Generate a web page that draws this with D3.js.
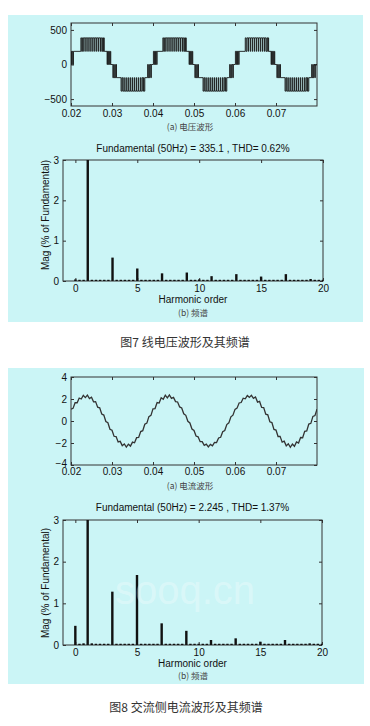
<!DOCTYPE html>
<html>
<head>
<meta charset="utf-8">
<script src="https://cdn.jsdelivr.net/npm/d3@7"></script>
<style>
  body { margin: 0; background: #fff; }
  svg { display: block; font-family: "Liberation Sans", Arial, sans-serif; }
</style>
</head>
<body>
<script>
(function(){

  //tick labels
  var timeTicks = [0.02, 0.03, 0.04, 0.05, 0.06, 0.07];
  var voltTicks = [-500, 0, 500];
  var currTicks = [-4, -2, 0, 2, 4];
  var orderTicks = [0, 5, 10, 15, 20];
  var magTicks = [0, 1, 2, 3];

  //line voltage, [time s, level V], drawn as steps
  var voltPts = [
    [0.0200,0],[0.0201,190],[0.0202,0],[0.0203,190],[0.0205,0],[0.0206,190],
    [0.0224,385],[0.0226,190],[0.0228,385],[0.0231,190],[0.0232,385],[0.0236,190],[0.0237,385],[0.0241,190],[0.0242,385],[0.0246,190],[0.0247,385],[0.0251,190],[0.0252,385],[0.0256,190],[0.0257,385],[0.0261,190],[0.0262,385],[0.0266,190],[0.0267,385],[0.0271,190],[0.0272,385],[0.0275,190],[0.0277,385],[0.0279,190],[0.0280,385],[0.0281,190],
    [0.0288,0],[0.0289,190],[0.0291,0],[0.0292,190],[0.0294,0],[0.0296,190],[0.0297,0],[0.0302,-190],[0.0304,0],[0.0305,-190],[0.0307,0],[0.0308,-190],[0.0310,0],[0.0311,-190],
    [0.0322,-385],[0.0324,-190],[0.0326,-385],[0.0329,-190],[0.0330,-385],[0.0334,-190],[0.0335,-385],[0.0339,-190],[0.0340,-385],[0.0344,-190],[0.0345,-385],[0.0349,-190],[0.0350,-385],[0.0354,-190],[0.0355,-385],[0.0359,-190],[0.0360,-385],[0.0364,-190],[0.0365,-385],[0.0369,-190],[0.0370,-385],[0.0373,-190],[0.0375,-385],[0.0377,-190],[0.0378,-385],[0.0380,-190],
    [0.0387,0],[0.0388,-190],[0.0390,0],[0.0391,-190],[0.0393,0],[0.0395,-190],[0.0396,0],[0.0401,190],[0.0403,0],[0.0404,190],[0.0406,0],[0.0407,190],[0.0409,0],[0.0410,190],
    [0.0424,385],[0.0426,190],[0.0428,385],[0.0431,190],[0.0432,385],[0.0436,190],[0.0437,385],[0.0441,190],[0.0442,385],[0.0446,190],[0.0447,385],[0.0451,190],[0.0452,385],[0.0456,190],[0.0457,385],[0.0461,190],[0.0462,385],[0.0466,190],[0.0467,385],[0.0471,190],[0.0472,385],[0.0475,190],[0.0477,385],[0.0479,190],[0.0480,385],[0.0481,190],
    [0.0488,0],[0.0489,190],[0.0491,0],[0.0492,190],[0.0494,0],[0.0496,190],[0.0497,0],[0.0502,-190],[0.0504,0],[0.0505,-190],[0.0507,0],[0.0508,-190],[0.0510,0],[0.0511,-190],
    [0.0522,-385],[0.0524,-190],[0.0526,-385],[0.0529,-190],[0.0530,-385],[0.0534,-190],[0.0535,-385],[0.0539,-190],[0.0540,-385],[0.0544,-190],[0.0545,-385],[0.0549,-190],[0.0550,-385],[0.0554,-190],[0.0555,-385],[0.0559,-190],[0.0560,-385],[0.0564,-190],[0.0565,-385],[0.0569,-190],[0.0570,-385],[0.0573,-190],[0.0575,-385],[0.0577,-190],[0.0578,-385],[0.0580,-190],
    [0.0587,0],[0.0588,-190],[0.0590,0],[0.0591,-190],[0.0593,0],[0.0595,-190],[0.0596,0],[0.0601,190],[0.0603,0],[0.0604,190],[0.0606,0],[0.0607,190],[0.0609,0],[0.0610,190],
    [0.0625,385],[0.0627,190],[0.0629,385],[0.0632,190],[0.0633,385],[0.0637,190],[0.0638,385],[0.0642,190],[0.0643,385],[0.0647,190],[0.0648,385],[0.0652,190],[0.0653,385],[0.0657,190],[0.0658,385],[0.0662,190],[0.0663,385],[0.0667,190],[0.0668,385],[0.0672,190],[0.0673,385],[0.0676,190],[0.0678,385],[0.0680,190],[0.0681,385],[0.0682,190],
    [0.0688,0],[0.0689,190],[0.0691,0],[0.0692,190],[0.0694,0],[0.0696,190],[0.0697,0],[0.0702,-190],[0.0704,0],[0.0705,-190],[0.0707,0],[0.0708,-190],[0.0710,0],[0.0711,-190],
    [0.0722,-385],[0.0724,-190],[0.0726,-385],[0.0729,-190],[0.0730,-385],[0.0734,-190],[0.0735,-385],[0.0739,-190],[0.0740,-385],[0.0744,-190],[0.0745,-385],[0.0749,-190],[0.0750,-385],[0.0754,-190],[0.0755,-385],[0.0759,-190],[0.0760,-385],[0.0764,-190],[0.0765,-385],[0.0769,-190],[0.0770,-385],[0.0773,-190],[0.0775,-385],[0.0777,-190],[0.0778,-385],[0.0780,-190],
    [0.0787,0],[0.0788,-190],[0.0790,0],[0.0791,-190],[0.0793,0],[0.0795,-190],[0.0796,0],[0.0800,0]
  ];

  //ac side current, one sample every 0.5 ms from 0.02 s
  var currStart = 0.02, currStep = 0.0005;
  var currVals = [
    1.08, 1.15, 1.66, 1.66, 2.09, 2.00, 2.33, 2.13, 2.35, 2.04, 2.16, 1.74, 1.76, 1.26, 1.20, 0.64, 0.54, -0.05, -0.16, -0.75,
    -0.84, -1.39, -1.42, -1.90, -1.85, -2.24, -2.09, -2.37, -2.11, -2.28, -1.92, -1.98, -1.52, -1.50, -0.96, -0.88, -0.30, -0.19, 0.40, 0.51,
    1.10, 1.13, 1.68, 1.63, 2.11, 1.98, 2.35, 2.10, 2.37, 2.06, 2.14, 1.76, 1.73, 1.28, 1.18, 0.66, 0.52, -0.03, -0.18, -0.73,
    -0.86, -1.37, -1.44, -1.88, -1.87, -2.22, -2.11, -2.35, -2.13, -2.26, -1.94, -1.96, -1.54, -1.48, -0.98, -0.86, -0.32, -0.17, 0.38, 0.53,
    1.06, 1.17, 1.64, 1.68, 2.07, 2.02, 2.31, 2.15, 2.33, 2.06, 2.18, 1.72, 1.78, 1.24, 1.22, 0.62, 0.56, -0.07, -0.14, -0.77,
    -0.82, -1.41, -1.40, -1.92, -1.83, -2.26, -2.07, -2.39, -2.09, -2.30, -1.90, -2.00, -1.50, -1.52, -0.94, -0.90, -0.28, -0.21, 0.42, 0.49,
    1.08
  ];

  //spectra, % of fundamental, one bin every 1/3 harmonic from 0 to 20
  var voltSpec = [
    0.04, 0.03, 0.03,  100, 0.03, 0.03,  0.03, 0.03, 0.03,  0.58, 0.03, 0.03,
    0.03, 0.03, 0.03,  0.31, 0.03, 0.03,  0.03, 0.03, 0.03,  0.19, 0.03, 0.03,
    0.03, 0.03, 0.03,  0.21, 0.03, 0.03,  0.04, 0.03, 0.03,  0.12, 0.03, 0.03,
    0.03, 0.03, 0.03,  0.17, 0.03, 0.03,  0.03, 0.03, 0.03,  0.11, 0.03, 0.03,
    0.03, 0.03, 0.03,  0.17, 0.03, 0.03,  0.03, 0.03, 0.03,  0.05, 0.03, 0.03,
    0.03
  ];
  var currSpec = [
    0.46, 0.03, 0.04,  100, 0.04, 0.03,  0.03, 0.03, 0.03,  1.28, 0.03, 0.03,
    0.03, 0.03, 0.03,  1.68, 0.03, 0.03,  0.03, 0.03, 0.03,  0.52, 0.03, 0.03,
    0.03, 0.03, 0.03,  0.34, 0.03, 0.03,  0.03, 0.03, 0.03,  0.12, 0.03, 0.03,
    0.03, 0.03, 0.03,  0.16, 0.03, 0.03,  0.03, 0.03, 0.03,  0.08, 0.03, 0.03,
    0.03, 0.03, 0.03,  0.12, 0.03, 0.03,  0.03, 0.03, 0.03,  0.04, 0.03, 0.03,
    0.03
  ];

  var width = 370, height = 726;
  var panelColor = "#cbf5f6";
  var inkColor = "#111";

  var svg = d3.select("body")
    .append("svg")
    .attr("width", width)
    .attr("height", height);

  //cyan panels behind each figure
  svg.append("rect").attr("x", 8).attr("y", 15).attr("width", 355).attr("height", 307).attr("fill", panelColor);
  svg.append("rect").attr("x", 8).attr("y", 368).attr("width", 356).attr("height", 316).attr("fill", panelColor);

  //figure 7
  var v = makeAxes({left: 71, right: 317, top: 23, bottom: 106, xDomain: [0.02, 0.08], yDomain: [-600, 600],
    xTicks: timeTicks, yTicks: voltTicks, xFmt: d3.format(".2f"), xPad: 4, id: "clipV"});
  drawSteps(v, voltPts);
  caption(190, 127, "(a) 电压波形");

  var s1 = makeAxes({left: 63, right: 323, top: 160, bottom: 281, xDomain: [-1, 20], yDomain: [0, 3],
    xTicks: orderTicks, yTicks: magTicks, xFmt: d3.format("d"), xPad: 4, id: "clipS1"});
  drawBars(s1, voltSpec);
  spectrumText(s1, 148, "Fundamental (50Hz) = 335.1 , THD= 0.62%", 299, 215);
  caption(193, 313, "(b) 频谱");

  svg.append("text").attr("x", 185).attr("y", 343).attr("dy", "0.35em")
    .attr("text-anchor", "middle").attr("font-family", "'Noto Sans CJK SC', sans-serif")
    .attr("font-size", 12).attr("fill", "#333")
    .text("图7 线电压波形及其频谱");

  //figure 8
  var c = makeAxes({left: 71, right: 317, top: 377, bottom: 465, xDomain: [0.02, 0.08], yDomain: [-4, 4],
    xTicks: timeTicks, yTicks: currTicks, xFmt: d3.format(".2f"), xPad: 3, id: "clipC"});
  c.g.selectAll(".axis text").filter(function(d){ return d === -4; }).attr("dy", "0.1em"); //keep clear of 0.02
  drawCurrent(c, currVals);
  caption(190, 486, "(a) 电流波形");

  var s2 = makeAxes({left: 63, right: 322, top: 520, bottom: 645, xDomain: [-1, 20], yDomain: [0, 3],
    xTicks: orderTicks, yTicks: magTicks, xFmt: d3.format("d"), xPad: 4, id: "clipS2"});

  //faint site watermark behind the bars
  svg.append("text").attr("x", 185).attr("y", 590).attr("dy", "0.35em")
    .attr("text-anchor", "middle").attr("font-family", "'Liberation Sans', Arial, sans-serif")
    .attr("font-size", 40).attr("fill", "#fff").attr("fill-opacity", 0.3)
    .text("sooq.cn");

  drawBars(s2, currSpec);
  spectrumText(s2, 507, "Fundamental (50Hz) = 2.245 , THD= 1.37%", 663, 583);
  caption(193, 676, "(b) 频谱");

  svg.append("text").attr("x", 186).attr("y", 708).attr("dy", "0.35em")
    .attr("text-anchor", "middle").attr("font-family", "'Noto Sans CJK SC', sans-serif")
    .attr("font-size", 12).attr("fill", "#333")
    .text("图8 交流侧电流波形及其频谱");

  //box with matlab style inward ticks on all four sides
  function makeAxes(o){
    var x = d3.scaleLinear().domain(o.xDomain).range([o.left, o.right]);
    var y = d3.scaleLinear().domain(o.yDomain).range([o.bottom, o.top]);
    var g = svg.append("g");

    g.append("clipPath").attr("id", o.id)
      .append("rect")
      .attr("x", o.left).attr("y", o.top)
      .attr("width", o.right - o.left).attr("height", o.bottom - o.top);

    var bottomAxis = d3.axisBottom(x).tickValues(o.xTicks).tickFormat(o.xFmt).tickSize(-3).tickPadding(o.xPad);
    var leftAxis = d3.axisLeft(y).tickValues(o.yTicks).tickFormat(d3.format("d")).tickSize(-3).tickPadding(4);

    g.append("g").attr("class", "axis").attr("transform", "translate(0," + o.bottom + ")").call(bottomAxis);
    g.append("g").attr("class", "axis").attr("transform", "translate(" + o.left + ",0)").call(leftAxis);
    g.append("g").attr("class", "axis nolabel").attr("transform", "translate(0," + o.top + ")")
      .call(d3.axisTop(x).tickValues(o.xTicks).tickSize(-3).tickFormat(""));
    g.append("g").attr("class", "axis nolabel").attr("transform", "translate(" + o.right + ",0)")
      .call(d3.axisRight(y).tickValues(o.yTicks).tickSize(-3).tickFormat(""));

    g.selectAll(".axis .domain").remove();
    g.selectAll(".axis line").attr("stroke", "#333");
    g.selectAll(".axis text").attr("font-size", 10).attr("fill", inkColor)
      .attr("font-family", "'Liberation Sans', Arial, sans-serif");

    g.append("rect") //plot frame
      .attr("x", o.left).attr("y", o.top)
      .attr("width", o.right - o.left).attr("height", o.bottom - o.top)
      .attr("fill", "none").attr("stroke", "#333").attr("stroke-width", 1);

    return {g: g, x: x, y: y, o: o};
  };

  function drawSteps(p, pts){
    var line = d3.line()
      .curve(d3.curveStepAfter)
      .x(function(d){ return p.x(d[0]); })
      .y(function(d){ return p.y(d[1]); });

    p.g.append("path")
      .datum(pts)
      .attr("clip-path", "url(#" + p.o.id + ")")
      .attr("d", line)
      .attr("fill", "none")
      .attr("stroke", "#1a1a1a")
      .attr("stroke-width", 0.9);
  };

  function drawCurrent(p, vals){
    var line = d3.line()
      .x(function(d, i){ return p.x(currStart + i * currStep); })
      .y(function(d){ return p.y(d); });

    p.g.append("path")
      .datum(vals)
      .attr("clip-path", "url(#" + p.o.id + ")")
      .attr("d", line)
      .attr("fill", "none")
      .attr("stroke", "#333")
      .attr("stroke-width", 1.3);
  };

  function drawBars(p, vals){
    var bw = 2.4; //bar width in px
    p.g.append("g")
      .attr("clip-path", "url(#" + p.o.id + ")")
      .selectAll("rect")
      .data(vals)
      .enter()
      .append("rect")
      .attr("x", function(d, i){ return p.x(i / 3) - bw / 2; })
      .attr("y", function(d){ return p.y(Math.min(d, 4)); })
      .attr("width", bw)
      .attr("height", function(d){ return p.y(0) - p.y(Math.min(d, 4)); })
      .attr("fill", "#111");
  };

  function spectrumText(p, titleY, title, xLabelY, yLabelY){
    var cx = (p.o.left + p.o.right) / 2;
    svg.append("text").attr("x", cx).attr("y", titleY).attr("dy", "0.35em")
      .attr("text-anchor", "middle").attr("font-size", 10).attr("fill", inkColor)
      .text(title);
    svg.append("text").attr("x", cx).attr("y", xLabelY).attr("dy", "0.35em")
      .attr("text-anchor", "middle").attr("font-size", 10).attr("fill", inkColor)
      .text("Harmonic order");
    svg.append("text")
      .attr("transform", "translate(45," + yLabelY + ") rotate(-90)")
      .attr("dy", "0.35em")
      .attr("text-anchor", "middle").attr("font-size", 10).attr("fill", inkColor)
      .text("Mag (% of Fundamental)");
  };

  function caption(x, y, label){
    svg.append("text").attr("x", x).attr("y", y).attr("dy", "0.35em")
      .attr("text-anchor", "middle").attr("font-family", "'Noto Sans CJK SC', sans-serif")
      .attr("font-size", 8.5).attr("fill", "#444")
      .text(label);
  };
})();
</script>
</body>
</html>
